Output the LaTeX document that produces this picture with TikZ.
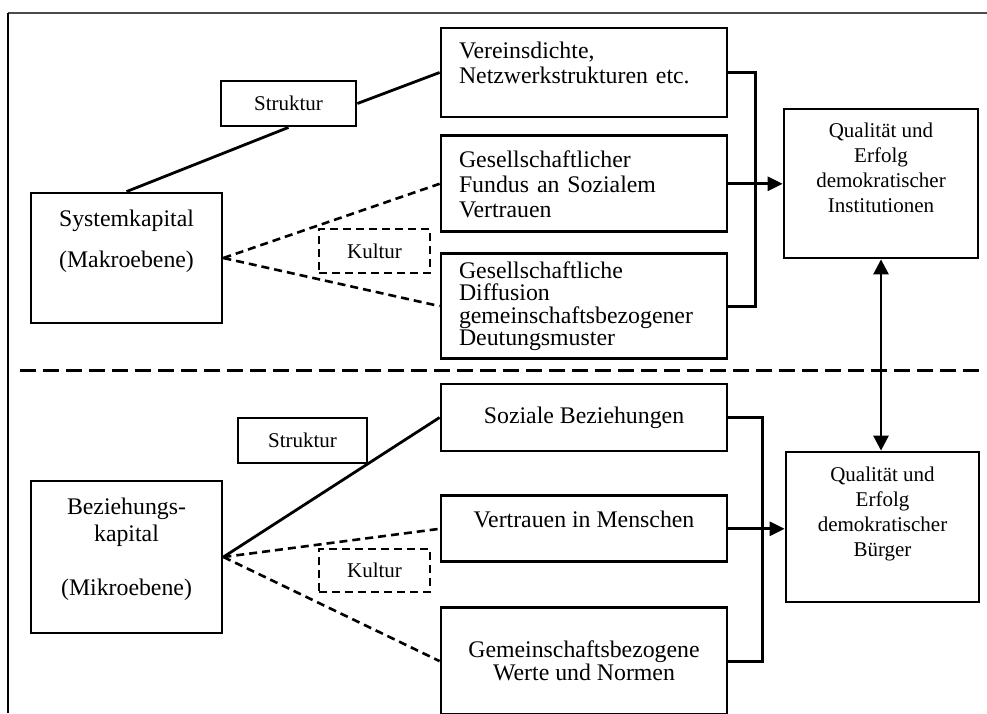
\documentclass[tikz,border=0pt]{standalone}
\usepackage{fontspec}
\setmainfont{Liberation Serif}
\usetikzlibrary{arrows.meta,positioning}

\newcommand{\txtbig}{\fontsize{23.8}{25}\selectfont}
\newcommand{\txtsmall}{\fontsize{21}{25}\selectfont}

\begin{document}
\begin{tikzpicture}[
  x=1pt, y=-1pt,
  font=\txtbig,
  box/.style={draw, line width=2.8pt, inner sep=0pt, align=center, minimum width=286pt},
  lbox/.style={box, align=left, text width=250pt, inner xsep=18pt},
  sbox/.style={draw, line width=2.8pt, inner sep=0pt, font=\txtsmall, minimum height=45pt},
  kbox/.style={sbox, line width=2.4pt, dash pattern=on 8pt off 5pt, minimum width=111pt, minimum height=44pt},
  qbox/.style={box, font=\txtsmall, minimum width=194pt, minimum height=150pt},
  conn/.style={line width=2.8pt},
  dconn/.style={line width=2.6pt, dash pattern=on 8pt off 5pt},
  arr/.style={line width=2.8pt, -{Triangle[length=15pt,width=14pt]}},
  darr/.style={line width=2.8pt, {Triangle[length=15pt,width=15pt]}-{Triangle[length=15pt,width=15pt]}},
  sep/.style={line width=3pt, dash pattern=on 16pt off 7pt}
]
\useasboundingbox (0,0) rectangle (987,713);
% frame
\draw[black!70, line width=2pt] (8,13) -- (987,13);
\draw[line width=1.5pt] (8,13) -- (8,713);

% Makroebene
\node[box, minimum width=191pt, minimum height=130pt, font=\fontsize{23.8}{27}\selectfont] (sys) at (126.5,258)
  {Systemkapital\\[14pt](Makroebene)\\[11pt]\mbox{}};
\node[sbox, minimum width=135pt] (struct1) at (288.5,103.5) {Struktur};
\node[kbox] (kult1) at (374.5,251) {Kultur};
\node[lbox, minimum height=89pt] (verein) at (584,72.5) {Vereinsdichte,\\Netzwerkstrukturen etc.\\[-6pt]\mbox{}};
\node[lbox, minimum height=96pt, below=16pt of verein] (fundus) {Gesellschaftlicher\\Fundus an Sozialem\\Vertrauen};
\node[lbox, minimum height=105pt, below=19pt of fundus, font=\fontsize{23.8}{22.5}\selectfont] (diff)
  {Gesellschaftliche\\Diffusion\\gemeinschaftsbezogener\\Deutungsmuster};
\node[qbox, minimum height=149pt] (inst) at (881,183.5) {Qualität und\\Erfolg\\demokratischer\\Institutionen\\[6pt]\mbox{}};

\draw[conn] (sys.north) -- (struct1.south);
\draw[conn] (struct1.east) -- (verein.west);
\draw[dconn] (sys.east) -- (fundus.west);
\draw[dconn] (sys.east) -- (diff.west);
\draw[conn] (verein.east) -- ++(27,0) |- (diff.east);
\draw[arr] (fundus.east) -- (fundus.east -| inst.west);

\draw[sep] (20,370) -- (980,370);

% Mikroebene
\node[box, minimum width=191pt, minimum height=152pt, font=\fontsize{23.8}{27}\selectfont] (bez) at (126.5,557)
  {Beziehungs-\\kapital\\[27pt](Mikroebene)\\[-6pt]\mbox{}};
\node[sbox, minimum width=129pt] (struct2) at (302.5,440.5) {Struktur};
\node[kbox, minimum height=43pt] (kult2) at (374.5,570.5) {Kultur};
\node[box, minimum height=67pt] (soz) at (584,417.5) {Soziale Beziehungen};
\node[box, minimum height=66pt, below=42pt of soz] (vert) {Vertrauen in Menschen\\[-6pt]\mbox{}};
\node[box, minimum height=107pt, below=43pt of vert, font=\fontsize{23.8}{23}\selectfont] (gem)
  {Gemeinschaftsbezogene\\Werte und Normen};
\node[qbox, minimum width=193pt] (buerg) at (882.5,527) {Qualität und\\Erfolg\\demokratischer\\Bürger\\[5pt]\mbox{}};

\draw[conn] (bez.east) -- (soz.west);
\draw[dconn] (bez.east) -- (vert.west);
\draw[dconn] (bez.east) -- (gem.west);
\draw[conn] (soz.east) -- ++(34,0) |- (gem.east);
\draw[arr] (vert.east) -- (vert.east -| buerg.west);

\draw[darr] (inst.south) -- (inst.south |- buerg.north);
\end{tikzpicture}
\end{document}
